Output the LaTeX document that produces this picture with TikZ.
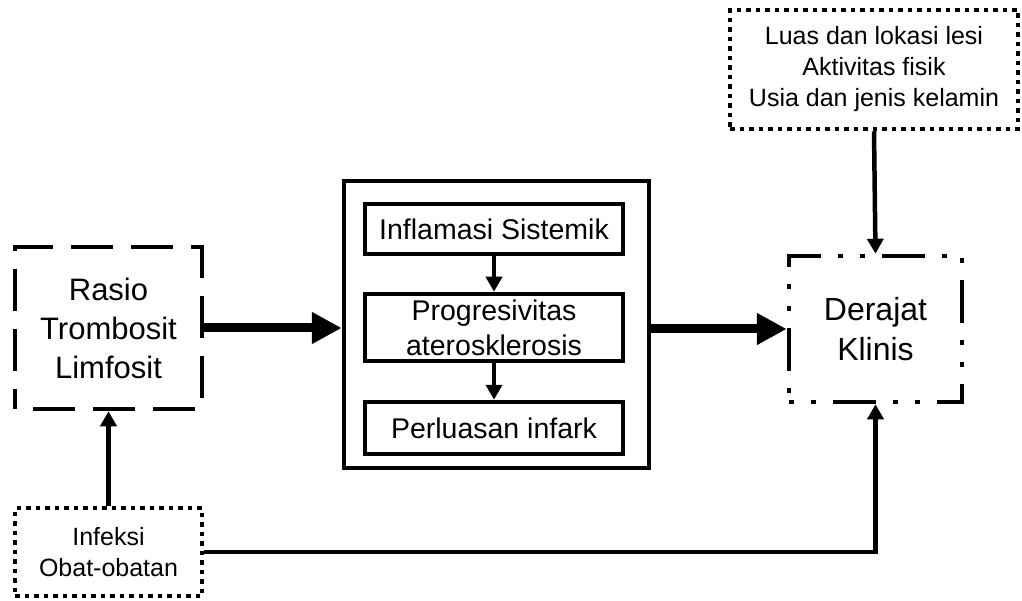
\documentclass[tikz,border=0pt]{standalone}
\usepackage{fontspec}
\setmainfont{Liberation Sans}
\usetikzlibrary{arrows.meta}
\begin{document}
\begin{tikzpicture}[x=1pt,y=-1pt,
  box/.style={draw,rectangle,inner sep=0pt,align=center,line width=4.5pt},
  dashbox/.style={box,dash pattern=on 42pt off 18pt,dash phase=42pt},
  dotbox/.style={box,dash pattern=on 4.5pt off 5pt},
  dashdotbox/.style={box,dash pattern=on 43pt off 17pt on 5pt off 17pt on 5pt off 17pt,dash phase=60pt},
  thick arrow/.style={line width=9pt,-{Triangle[length=30pt,width=30pt]}},
  thin arrow/.style={line width=4.5pt,-{Triangle[length=15pt,width=16pt]}},
  big/.style={font=\fontsize{31}{39}\selectfont},
  mid/.style={font=\fontsize{28.5}{35}\selectfont},
  der/.style={font=\fontsize{32}{40}\selectfont},
  small/.style={font=\fontsize{25}{31}\selectfont}]
\useasboundingbox (0,0) rectangle (1022,601);
\node[dashbox,big,minimum width=187pt,minimum height=162pt] (rasio) at (108.5,328) {Rasio\\Trombosit\\Limfosit};
\node[box,minimum width=305pt,minimum height=287pt] (outer) at (496.5,324.5) {};
\node[box,mid,minimum width=258pt,minimum height=50pt] (inf) at (494,229) {Inflamasi Sistemik};
\node[box,mid,minimum width=258pt,minimum height=67pt] (prog) at (494,327.5) {Progresivitas\\aterosklerosis};
\node[box,mid,minimum width=258pt,minimum height=52pt] (perl) at (494,428) {Perluasan infark};
\node[dashdotbox,der,minimum width=173pt,minimum height=146pt] (der) at (875.5,329) {Derajat\\Klinis};
\node[dotbox,small,minimum width=288pt,minimum height=119pt] (top) at (874,69.5) {Luas dan lokasi lesi\\Aktivitas fisik\\Usia dan jenis kelamin};
\node[dotbox,small,minimum width=187pt,minimum height=88pt] (infk) at (108.5,552) {Infeksi\\Obat-obatan};
\draw[thick arrow] (rasio.east) -- (rasio.east -| outer.west);
\draw[thick arrow] (outer.east |- der.west) -- (der.west);
\draw[thin arrow] (inf.south) -- (prog.north);
\draw[thin arrow] (prog.south) -- (perl.north);
\draw[thin arrow] (infk.north) -- (rasio.south);
\draw[thin arrow] (infk.east) -| (der.south);
\draw[thin arrow] (top.south) -- (der.north);
\end{tikzpicture}
\end{document}
